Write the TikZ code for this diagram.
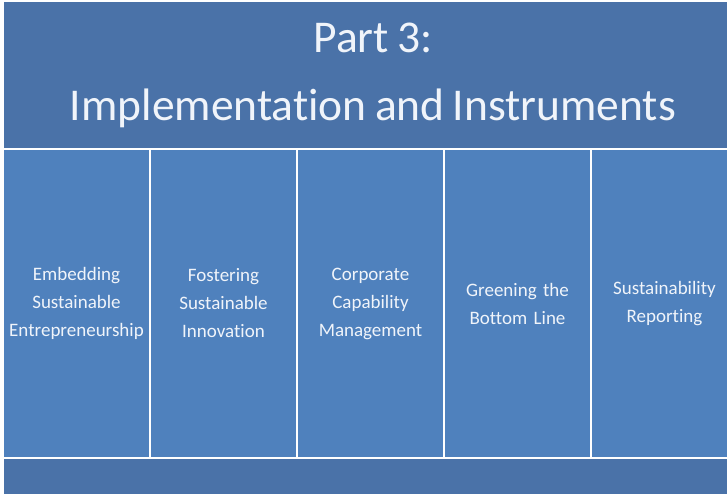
\documentclass[tikz,border=0pt]{standalone}
\usepackage{fontspec}
\setmainfont{Carlito}[Ligatures=NoCommon, WordSpace=0.8]
\usetikzlibrary{positioning}

\definecolor{headblue}{RGB}{74,114,168}
\definecolor{colblue}{RGB}{79,129,189}
\definecolor{txtwhite}{RGB}{240,244,250}

\tikzset{
    partbox/.style={draw=white, line width=2pt, outer sep=0pt, inner sep=0pt,
        text=txtwhite, align=center},
    headbox/.style={partbox, fill=headblue, minimum width=740pt, minimum height=148pt,
        font=\fontsize{45.5}{68}\selectfont},
    colbox/.style={partbox, fill=colblue, minimum width=147pt, minimum height=309pt,
        text width=145pt, font=\fontsize{19}{28}\selectfont},
    footbox/.style={partbox, fill=headblue, minimum width=740pt, minimum height=40pt}
}

\begin{document}
\begin{tikzpicture}[x=1pt,y=-1pt]
        \useasboundingbox (0,0) rectangle (727,493);
        \fill[white] (0,0) rectangle (727,493);
        \clip (0,0) rectangle (727,493);

        \node[headbox, anchor=north west] (header) at (3,1)
            {Part 3:\\Implementation and Instruments};

        \node[colbox, anchor=north west] (col1) at (header.south west)
            {Embedding\\Sustainable\\Entrepreneurship};
        \node[colbox, right=0pt of col1] (col2)
            {Fostering\\Sustainable\\Innovation};
        \node[colbox, right=0pt of col2] (col3)
            {Corporate\\Capability\\Management};
        \node[colbox, right=0pt of col3] (col4)
            {Greening the\\Bottom Line};
        \node[colbox, right=0pt of col4] (col5)
            {Sustainability\\Reporting};

        \node[footbox, anchor=north west] (footer) at (col1.south west) {};

    \end{tikzpicture}
\end{document}
